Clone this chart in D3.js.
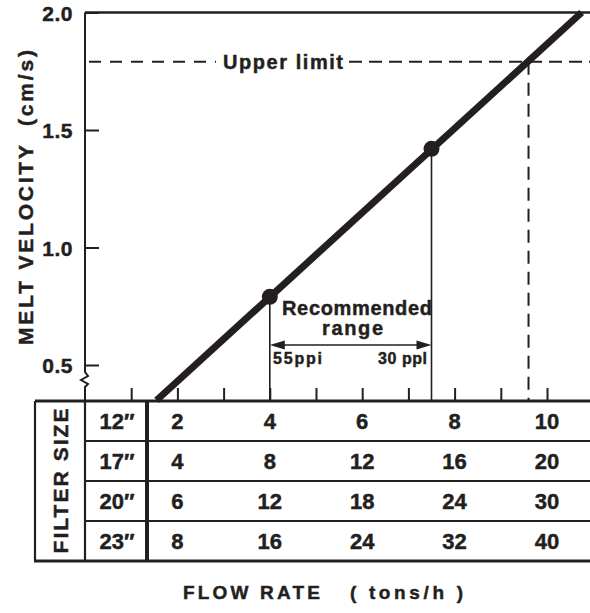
<!DOCTYPE html>
<html>
<head>
<meta charset="utf-8">
<script src="https://cdn.jsdelivr.net/npm/d3@7"></script>
<style>
	body { margin: 0; background: #fff; }
	text { font-family: "Liberation Sans", Arial, sans-serif; font-weight: bold; fill: #231f20; stroke: #231f20; stroke-width: 0.45px; }
</style>
</head>
<body>
<script>
"use strict"
// values
const velocityTicks = [0.5, 1.0, 1.5, 2.0];
const flowTicks = [1, 2, 3, 4, 5, 6, 7, 8, 9, 10];
const lineFlow = [1.55, 10.75];
const lineVelocity = [0.35, 2.0];
const pointFlow = [4, 7.5];
const pointVelocity = [0.79, 1.42];
const upperLimitVelocity = 1.79;
const upperLimitFlow = 9.6;
const filterSizes = ['12″', '17″', '20″', '23″'];
const tableColumns = [2, 4, 6, 8, 10];
const flowBySize = [
	[2, 4, 6, 8, 10],
	[4, 8, 12, 16, 20],
	[6, 12, 18, 24, 30],
	[8, 16, 24, 32, 40]
];

const w = 590;
const h = 613;
const ink = '#231f20';
const axisX = 85;
const tableTop = 401;
const tableBottom = 561;
const tableLeft = 35;
const sizeColRight = 147;

const svg = d3.select('body')
	.append('svg')
	.attr('width', w)
	.attr('height', h);

const xScale = d3.scaleLinear().domain([0, 10]).range([axisX, 547]);
const yScale = d3.scaleLinear().domain([0.5, 2.0]).range([365, 12.5]);
const rowScale = d3.scaleBand().domain(filterSizes).range([tableTop, tableBottom]);

// y axis with inward ticks
const yAxis = d3.axisLeft(yScale)
	.tickValues(velocityTicks)
	.tickFormat(d3.format('.1f'))
	.tickSizeInner(-14)
	.tickSizeOuter(0)
	.tickPadding(12);

const gy = svg.append('g')
	.attr('transform', 'translate(' + axisX + ',0)')
	.call(yAxis);
gy.select('.domain').remove();
gy.selectAll('line').attr('stroke', ink).attr('stroke-width', 2);
gy.selectAll('text')
	.style('font-size', '21px')
	.style('letter-spacing', '0.5px')
	.attr('dy', '0.36em');

// axis line with break mark
svg.append('path')
	.attr('d', 'M' + axisX + ',' + yScale(2.0) + 'V372L88,376L81,380L88,384L85,387V' + tableTop)
	.attr('fill', 'none')
	.attr('stroke', ink)
	.attr('stroke-width', 2);

// top frame line
svg.append('line')
	.attr('x1', axisX).attr('x2', w)
	.attr('y1', yScale(2.0)).attr('y2', yScale(2.0))
	.attr('stroke', ink).attr('stroke-width', 2.5);

// flow ticks on top of the table
const xAxis = d3.axisTop(xScale)
	.tickValues(flowTicks)
	.tickFormat('')
	.tickSizeInner(13)
	.tickSizeOuter(0);
const gx = svg.append('g')
	.attr('transform', 'translate(0,' + tableTop + ')')
	.call(xAxis);
gx.select('.domain').remove();
gx.selectAll('line').attr('stroke', ink).attr('stroke-width', 2);

// upper limit
const yLimit = yScale(upperLimitVelocity);
svg.append('line')
	.attr('x1', 89).attr('x2', 216)
	.attr('y1', yLimit).attr('y2', yLimit)
	.attr('stroke', ink).attr('stroke-width', 2)
	.attr('stroke-dasharray', '12 9');
svg.append('line')
	.attr('x1', 349).attr('x2', w)
	.attr('y1', yLimit).attr('y2', yLimit)
	.attr('stroke', ink).attr('stroke-width', 2)
	.attr('stroke-dasharray', '13 7');
svg.append('text')
	.attr('x', 223).attr('y', yLimit + 7)
	.attr('textLength', 120)
	.style('font-size', '20px')
	.text('Upper limit');
svg.append('line')
	.attr('x1', xScale(upperLimitFlow)).attr('x2', xScale(upperLimitFlow))
	.attr('y1', yLimit).attr('y2', tableTop)
	.attr('stroke', ink).attr('stroke-width', 2)
	.attr('stroke-dasharray', '13 8');

// recommended range verticals
svg.selectAll('line.range')
	.data(pointFlow)
	.enter()
	.append('line')
	.attr('class', 'range')
	.attr('x1', d => xScale(d)).attr('x2', d => xScale(d))
	.attr('y1', (d, i) => yScale(pointVelocity[i]))
	.attr('y2', tableTop)
	.attr('stroke', ink).attr('stroke-width', 1.6);

// double arrow
const arrowY = 345;
const xa = xScale(pointFlow[0]);
const xb = xScale(pointFlow[1]);
svg.append('line')
	.attr('x1', xa + 10).attr('x2', xb - 10)
	.attr('y1', arrowY).attr('y2', arrowY)
	.attr('stroke', ink).attr('stroke-width', 1.6);
svg.append('path')
	.attr('d', 'M' + xa + ',' + arrowY + 'l15,-4.5v9z')
	.attr('fill', ink);
svg.append('path')
	.attr('d', 'M' + xb + ',' + arrowY + 'l-15,-4.5v9z')
	.attr('fill', ink);

svg.append('text')
	.attr('x', 282).attr('y', 315)
	.attr('textLength', 150)
	.style('font-size', '20px')
	.text('Recommended');
svg.append('text')
	.attr('x', 322).attr('y', 335)
	.attr('textLength', 61)
	.style('font-size', '20px')
	.text('range');
svg.append('text')
	.attr('x', 273).attr('y', 364)
	.attr('textLength', 49)
	.style('font-size', '16px')
	.text('55ppi');
svg.append('text')
	.attr('x', 378).attr('y', 364)
	.attr('textLength', 49)
	.style('font-size', '16px')
	.text('30 ppl');

// melt velocity line
const lineData = lineFlow.map((f, i) => [f, lineVelocity[i]]);
svg.append('path')
	.datum(lineData)
	.attr('d', d3.line().x(d => xScale(d[0])).y(d => yScale(d[1])))
	.attr('fill', 'none')
	.attr('stroke', ink)
	.attr('stroke-width', 7);

svg.selectAll('circle')
	.data(pointFlow)
	.enter()
	.append('circle')
	.attr('cx', d => xScale(d))
	.attr('cy', (d, i) => yScale(pointVelocity[i]))
	.attr('r', 8)
	.attr('fill', ink);

// table grid
const grid = svg.append('g')
	.attr('stroke', ink)
	.attr('stroke-width', 2.2);
grid.append('line')
	.attr('x1', tableLeft).attr('x2', w)
	.attr('y1', tableTop).attr('y2', tableTop)
	.attr('stroke-width', 2.8);
grid.append('line')
	.attr('x1', tableLeft - 1).attr('x2', w)
	.attr('y1', tableBottom).attr('y2', tableBottom)
	.attr('stroke-width', 2.8);
grid.selectAll('line.row')
	.data(filterSizes.slice(1))
	.enter()
	.append('line')
	.attr('class', 'row')
	.attr('x1', axisX).attr('x2', w)
	.attr('y1', d => rowScale(d)).attr('y2', d => rowScale(d));
grid.append('line')
	.attr('x1', tableLeft).attr('x2', tableLeft)
	.attr('y1', tableTop).attr('y2', tableBottom);
grid.append('line')
	.attr('x1', axisX).attr('x2', axisX)
	.attr('y1', tableTop).attr('y2', tableBottom);
grid.append('line')
	.attr('x1', sizeColRight).attr('x2', sizeColRight)
	.attr('y1', tableTop).attr('y2', tableBottom)
	.attr('stroke-width', 4);

svg.append('text')
	.attr('transform', 'translate(68,' + ((tableTop + tableBottom) / 2) + ') rotate(-90)')
	.attr('text-anchor', 'middle')
	.attr('textLength', 145)
	.style('font-size', '21px')
	.text('FILTER SIZE');

svg.selectAll('text.size')
	.data(filterSizes)
	.enter()
	.append('text')
	.attr('class', 'size')
	.attr('x', 117)
	.attr('y', d => rowScale(d) + rowScale.bandwidth() / 2 + 8)
	.attr('text-anchor', 'middle')
	.style('font-size', '22px')
	.text(d => d);

const rows = svg.selectAll('g.tablerow')
	.data(flowBySize)
	.enter()
	.append('g')
	.attr('class', 'tablerow')
	.attr('transform', (d, i) => 'translate(0,' + (rowScale(filterSizes[i]) + rowScale.bandwidth() / 2 + 8) + ')');
rows.selectAll('text')
	.data(d => d)
	.enter()
	.append('text')
	.attr('x', (d, i) => xScale(tableColumns[i]))
	.attr('text-anchor', 'middle')
	.style('font-size', '22px')
	.text(d => d);

// axis titles
svg.append('text')
	.attr('transform', 'translate(33,245) rotate(-90)')
	.attr('text-anchor', 'middle')
	.attr('textLength', 200)
	.style('font-size', '21px')
	.text('MELT VELOCITY');
svg.append('text')
	.attr('transform', 'translate(33,88) rotate(-90)')
	.attr('text-anchor', 'middle')
	.attr('textLength', 76)
	.style('font-size', '21px')
	.text('(cm/s)');

svg.append('text')
	.attr('x', 183).attr('y', 599)
	.attr('textLength', 137)
	.style('font-size', '19px')
	.text('FLOW RATE');
svg.append('text')
	.attr('x', 350).attr('y', 599)
	.attr('textLength', 113)
	.style('font-size', '19px')
	.text('( tons/h )');
</script>
</body>
</html>
